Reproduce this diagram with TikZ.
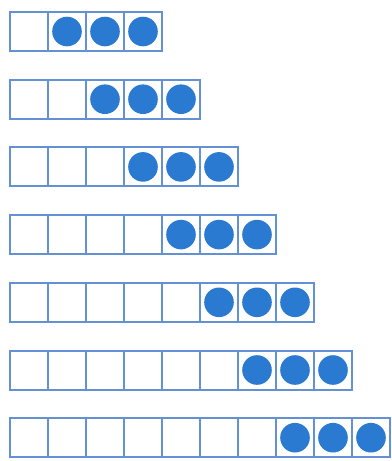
\documentclass[tikz,border=0pt]{standalone}
\usepackage{tikz}

\begin{document}
\begin{tikzpicture}[
  x=0.25mm,y=-0.25mm,
  cell/.style={draw=frameBlue,line width=0.5mm,minimum width=9.5mm,minimum height=9.75mm,inner sep=0pt,outer sep=0pt},
  dot/.style={circle,fill=dotBlue,minimum size=7.4mm,inner sep=0pt},
]
\definecolor{frameBlue}{HTML}{6391D4}
\definecolor{dotBlue}{HTML}{2B7AD1}

\useasboundingbox (0,0) rectangle (392,461);

% rows of empty cells, three counters at the end
\foreach \r in {1,...,7}{
  \pgfmathtruncatemacro{\n}{\r+3}
  \foreach \k in {1,...,\n}{
    \node[cell] (c\r-\k) at ({10+38*(\k-0.5)},{31.5+67.7*(\r-1)}) {};
  }
  \foreach \k in {1,2,3}{
    \pgfmathtruncatemacro{\j}{\r+\k}
    \node[dot] (d\r-\k) at (c\r-\j) {};
  }
}
\end{tikzpicture}
\end{document}
